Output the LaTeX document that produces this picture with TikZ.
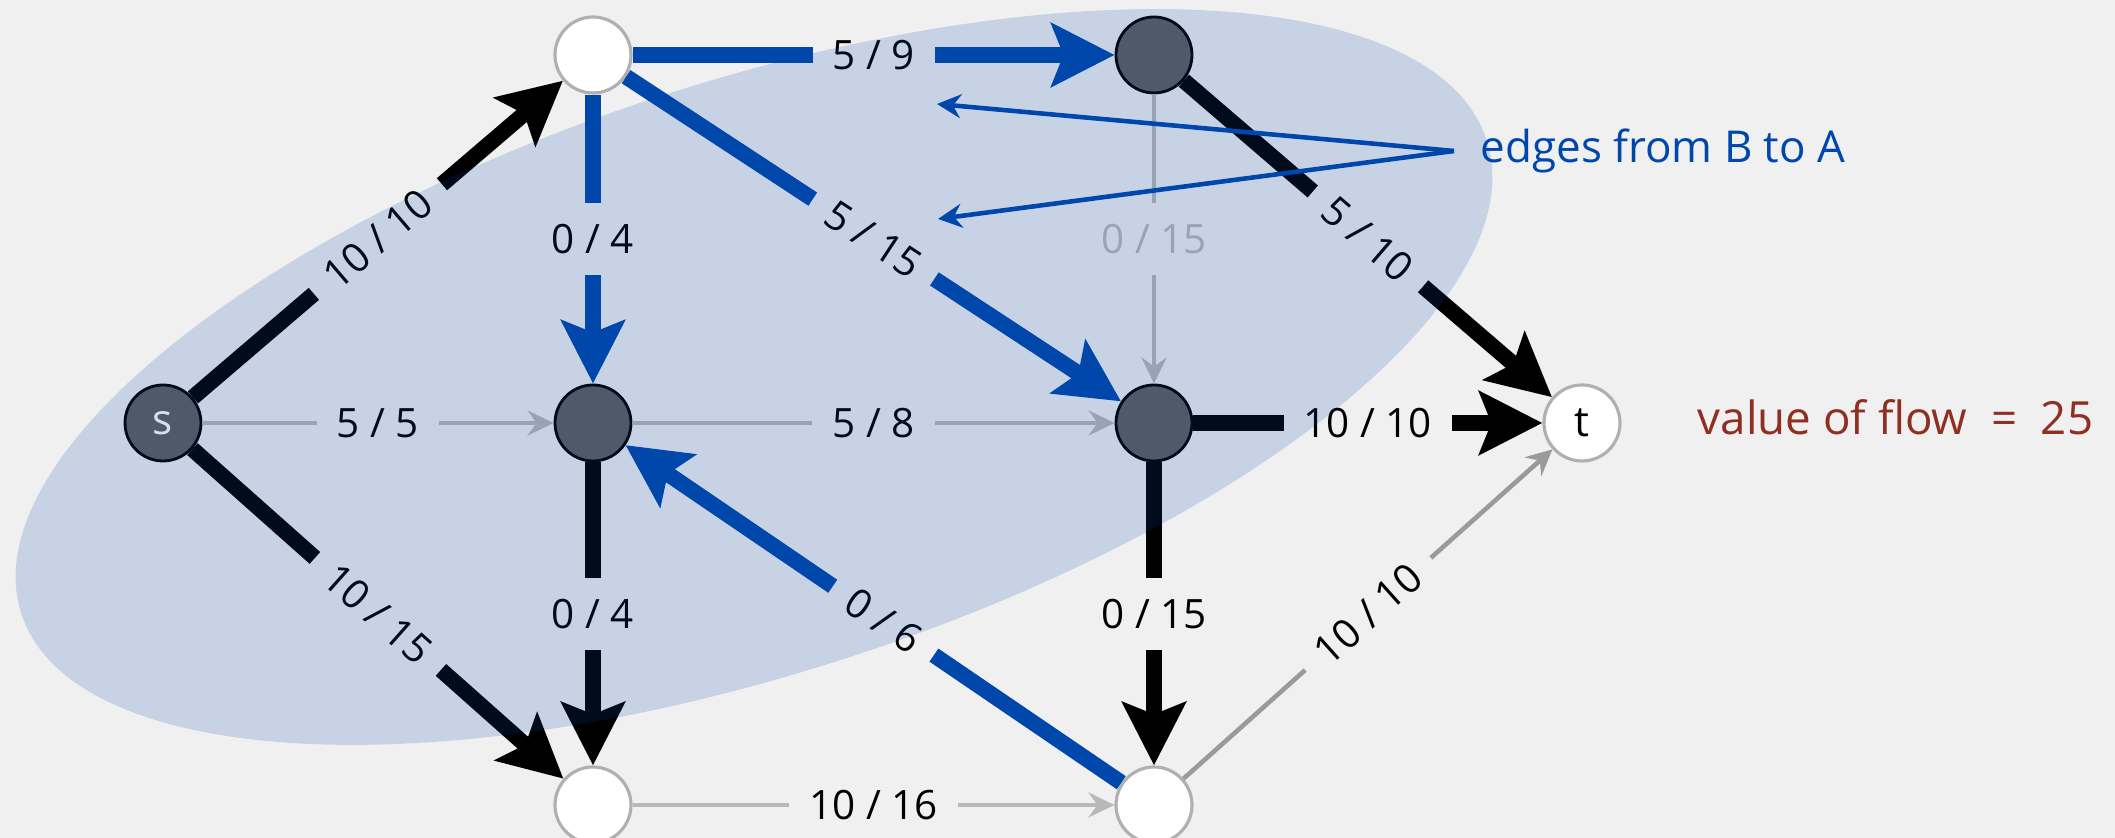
\documentclass[tikz,border=0pt]{standalone}
\usepackage{fontspec}
\setmainfont{Open Sans}
\usepackage{tikz}
\usepackage{xcolor}
\usetikzlibrary{arrows.meta,positioning}
\definecolor{Paper}{HTML}{F0F0F0}
\definecolor{Ink}{HTML}{000000}
\definecolor{Slate}{HTML}{5E5E5E}
\definecolor{Rim}{HTML}{B0B0B0}
\definecolor{Idle}{HTML}{B8B8B8}
\definecolor{Resid}{HTML}{9A9A9A}
\definecolor{Cobalt}{HTML}{0047AB}
\definecolor{Brick}{HTML}{8F2F22}
\tikzset{
  srcside/.style={circle,draw=Ink,fill=Slate,line width=0.8pt,minimum size=0.76cm,inner sep=0pt,font=\fontsize{12}{14}\selectfont,text=white},
  sinkside/.style={circle,draw=Rim,fill=white,line width=0.9pt,minimum size=0.76cm,inner sep=0pt,font=\fontsize{12}{14}\selectfont,text=Ink},
  flowlbl/.style={fill=Paper,inner xsep=0.2cm,inner ysep=0.21cm,font=\fontsize{11.5}{13}\selectfont,text=Ink},
  fullarr/.style={-{Stealth[length=6.3mm,width=6.3mm,inset=1.2mm]},draw=Ink,line width=4.5pt},
  pusharr/.style={-{Stealth[length=6.3mm,width=6.3mm,inset=1.2mm]},draw=Cobalt,line width=4.5pt},
  idlearr/.style={-{Stealth[length=2.6mm,width=2.5mm,inset=0.9mm]},draw=Idle,line width=1.3pt},
  notearr/.style={-{Stealth[length=2.4mm,width=2.4mm,inset=0.8mm]},draw=Cobalt,line width=1.3pt}
}
\begin{document}
\begin{tikzpicture}
  \useasboundingbox (0,0) rectangle (21.15,8.38);
  \fill[Paper] (0,0) rectangle (21.15,8.38);
  \node[srcside] (s) at (1.63,4.15) {s};
  \node[sinkside] (a) at (5.93,7.83) {};
  \node[srcside] (b) at (11.54,7.83) {};
  \node[srcside] (c) at (5.93,4.15) {};
  \node[srcside] (d) at (11.54,4.15) {};
  \node[sinkside] (t) at (15.82,4.15) {t};
  \node[sinkside] (e) at (5.93,0.33) {};
  \node[sinkside] (f) at (11.54,0.33) {};
  \draw[fullarr] (s) -- node[flowlbl,sloped] {10 / 10} (a);
  \draw[idlearr] (s) -- node[flowlbl] {5 / 5} (c);
  \draw[fullarr] (s) -- node[flowlbl,sloped] {10 / 15} (e);
  \draw[pusharr] (a) -- node[flowlbl] {5 / 9} (b);
  \draw[pusharr] (a) -- node[flowlbl] {0 / 4} (c);
  \draw[pusharr] (a) -- node[flowlbl,sloped] {5 / 15} (d);
  \draw[idlearr] (b) -- node[flowlbl,text=Idle] {0 / 15} (d);
  \draw[fullarr] (b) -- node[flowlbl,sloped] {5 / 10} (t);
  \draw[idlearr] (c) -- node[flowlbl] {5 / 8} (d);
  \draw[fullarr] (c) -- node[flowlbl] {0 / 4} (e);
  \draw[pusharr] (f) -- node[flowlbl,sloped,pos=0.48] {0 / 6} (c);
  \draw[fullarr] (d) -- node[flowlbl] {10 / 10} (t);
  \draw[fullarr] (d) -- node[flowlbl] {0 / 15} (f);
  \draw[idlearr] (e) -- node[flowlbl] {10 / 16} (f);
  \draw[idlearr,draw=Resid] (f) -- node[flowlbl,sloped] {10 / 10} (t);
  \fill[Cobalt,fill opacity=0.17,rotate around={17.9:(7.54,4.61)}] (7.54,4.61) ellipse [x radius=7.70,y radius=2.96];
  \coordinate (foot) at (14.54,6.87);
  \coordinate (tipab) at (9.37,7.34);
  \coordinate (tipad) at (9.38,6.19);
  \node[right=0.26cm of foot,inner sep=0pt,text=Cobalt,font=\fontsize{12.5}{15}\selectfont] (note) {edges from B to A};
  \draw[notearr] (foot) -- (tipab);
  \draw[notearr] (foot) -- (tipad);
  \node[anchor=base west,inner sep=0pt,text=Brick,font=\fontsize{13}{16}\selectfont] (val) at (16.97,4.03) {value of flow~~=~~25};
\end{tikzpicture}
\end{document}
